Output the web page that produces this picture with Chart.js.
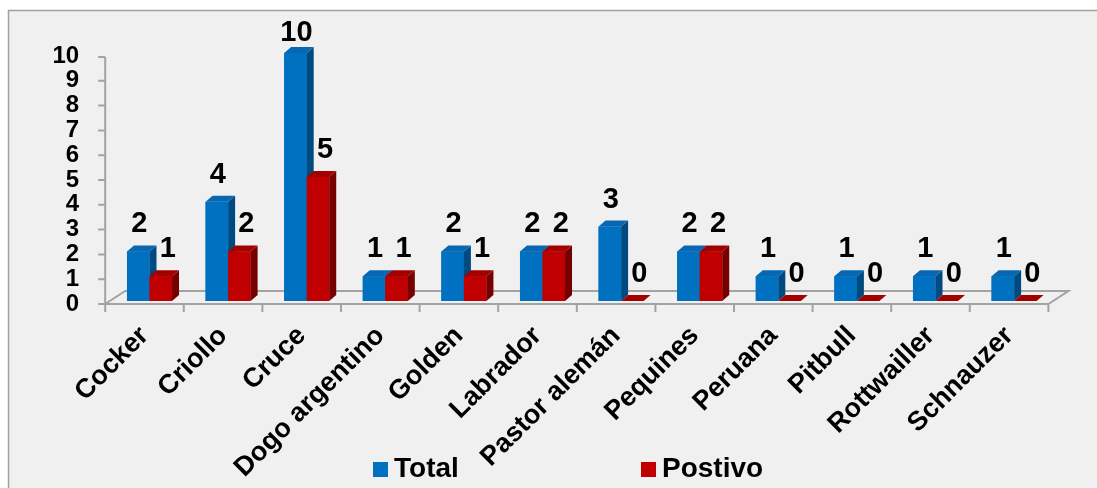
<!DOCTYPE html>
<html>
<head>
<meta charset="utf-8">
<script src="https://cdn.jsdelivr.net/npm/chart.js@4.4.0/dist/chart.umd.min.js"></script>
<style>
  html, body { margin: 0; background: #fff; }
  canvas { display: block; }
</style>
</head>
<body>
<canvas id="chart" width="1097" height="488"></canvas>
<script>
// datos
const razas = ["Cocker", "Criollo", "Cruce", "Dogo argentino", "Golden", "Labrador",
  "Pastor alemán", "Pequines", "Peruana", "Pitbull", "Rottwailler", "Schnauzer"];
const total = [2, 4, 10, 1, 2, 2, 3, 2, 1, 1, 1, 1];
const positivo = [1, 2, 5, 1, 1, 2, 0, 2, 0, 0, 0, 0];
const yMax = 10;

const FONT = "'Liberation Sans', Arial, sans-serif";
const DX = 7, DY = -6;      // profundidad 3D de las barras
const FLOOR_SHIFT = 5;      // el piso queda un poco a la izquierda de las barras
const shades = {
  "#0070C0": { top: "#0867b2", side: "#004a82" },
  "#C00000": { top: "#a30000", side: "#760000" }
};

// fondo y marco
const frame = {
  id: "frame",
  beforeDraw(chart) {
    const ctx = chart.ctx;
    ctx.save();
    ctx.fillStyle = "#fff";
    ctx.fillRect(0, 0, chart.width, chart.height);
    ctx.fillStyle = "#f0f0f0";
    ctx.fillRect(8, 10, chart.width, chart.height);
    ctx.strokeStyle = "#a0a0a0";
    ctx.lineWidth = 1.5;
    ctx.beginPath();
    ctx.moveTo(8.5, chart.height);
    ctx.lineTo(8.5, 10.5);
    ctx.lineTo(chart.width, 10.5);
    ctx.stroke();
    ctx.restore();
  }
};

// piso 3D, eje y y marcas
const floor = {
  id: "floor",
  beforeDatasetsDraw(chart) {
    const { ctx, scales: { x, y } } = chart;
    const catW = x.getPixelForValue(1) - x.getPixelForValue(0);
    const left = x.left - FLOOR_SHIFT;
    const right = x.right - FLOOR_SHIFT;
    const front = y.getPixelForValue(0) + 3;
    const back = front - 13;
    ctx.save();
    ctx.strokeStyle = "#a3a3a3";
    ctx.lineWidth = 2;
    ctx.beginPath();
    ctx.moveTo(left, front); ctx.lineTo(right, front);
    ctx.lineTo(right + 20, back); ctx.lineTo(left + 20, back);
    ctx.lineTo(left, front);
    ctx.moveTo(left, front); ctx.lineTo(left, y.getPixelForValue(yMax) + 4);
    for (let v = 0; v <= yMax; v++) {
      const py = y.getPixelForValue(v) + 3 + (v === yMax ? 1 : 0);
      ctx.moveTo(left - 7, py); ctx.lineTo(left, py);
    }
    for (let k = 0; k <= razas.length; k++) {
      const px = left + k * catW;
      ctx.moveTo(px, front); ctx.lineTo(px, front + 8);
    }
    ctx.stroke();
    ctx.restore();
  }
};

// caras laterales y superiores, mas etiquetas de datos
const bars3d = {
  id: "bars3d",
  afterDatasetsDraw(chart) {
    const ctx = chart.ctx;
    ctx.save();
    for (let i = 0; i < razas.length; i++) {
      chart.data.datasets.forEach((ds, di) => {
        const bar = chart.getDatasetMeta(di).data[i];
        const { x, y, base, width } = bar.getProps(["x", "y", "base", "width"], true);
        const l = x - width / 2, r = x + width / 2;
        const c = shades[ds.backgroundColor];
        ctx.fillStyle = ds.backgroundColor;
        ctx.fillRect(l, y, width, base - y);
        ctx.fillStyle = c.side;
        ctx.beginPath();
        ctx.moveTo(r, y); ctx.lineTo(r + DX, y + DY);
        ctx.lineTo(r + DX, base + DY); ctx.lineTo(r, base);
        ctx.closePath(); ctx.fill();
        ctx.fillStyle = c.top;
        ctx.beginPath();
        ctx.moveTo(l, y); ctx.lineTo(l + DX, y + DY);
        ctx.lineTo(r + DX, y + DY); ctx.lineTo(r, y);
        ctx.closePath(); ctx.fill();
      });
    }
    ctx.fillStyle = "#000";
    ctx.font = "bold 29px " + FONT;
    ctx.textAlign = "center";
    ctx.textBaseline = "middle";
    chart.data.datasets.forEach((ds, di) => {
      chart.getDatasetMeta(di).data.forEach((bar, i) => {
        const off = di === 0 ? 1 : 7;
        const ly = Math.max(bar.y - 27, 33);
        ctx.fillText(String(ds.data[i]), bar.x + off, ly);
      });
    });
    ctx.restore();
  }
};

// leyenda
const legendBox = {
  id: "legendBox",
  afterDraw(chart) {
    const ctx = chart.ctx;
    const pos = [373, 641];
    ctx.save();
    ctx.font = "bold 28px " + FONT;
    ctx.textBaseline = "alphabetic";
    ctx.textAlign = "left";
    chart.data.datasets.forEach((ds, di) => {
      ctx.fillStyle = ds.backgroundColor;
      ctx.fillRect(pos[di], 462, 15, 15);
      ctx.fillStyle = "#000";
      ctx.fillText(ds.label, pos[di] + 21, 477);
    });
    ctx.restore();
  }
};

new Chart(document.getElementById("chart"), {
  type: "bar",
  data: {
    labels: razas,
    datasets: [
      { label: "Total", data: total, backgroundColor: "#0070C0",
        categoryPercentage: 0.573, barPercentage: 1 },
      { label: "Postivo", data: positivo, backgroundColor: "#C00000",
        categoryPercentage: 0.573, barPercentage: 1 }
    ]
  },
  options: {
    responsive: false,
    animation: false,
    layout: { padding: { top: 53, left: 0, right: 43.6, bottom: 0 } },
    plugins: { legend: { display: false }, tooltip: { enabled: false } },
    scales: {
      x: {
        grid: { display: false, drawTicks: false },
        border: { display: false },
        ticks: {
          autoSkip: false, maxRotation: 45, minRotation: 45, padding: 19, labelOffset: -5,
          color: "#000", font: { size: 27, weight: "bold", family: FONT }
        },
        afterFit(s) { s.height = 187; }
      },
      y: {
        min: 0, max: yMax,
        grid: { display: false, drawTicks: false },
        border: { display: false },
        ticks: {
          stepSize: 1, autoSkip: false, padding: 31, labelOffset: 3,
          color: "#000", font: { size: 24, weight: "bold", family: FONT }
        },
        afterFit(s) { s.width = 110.2; }
      }
    }
  },
  plugins: [frame, floor, bars3d, legendBox]
});
</script>
</body>
</html>
